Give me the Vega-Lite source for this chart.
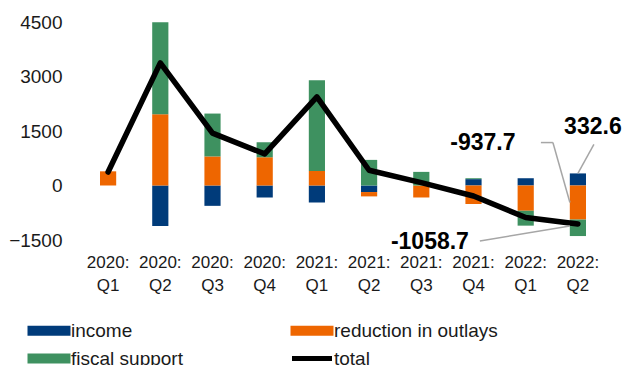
{
  "$schema": "https://vega.github.io/schema/vega-lite/v6.json",
  "autosize": {"type": "none"},
  "padding": {"left": 82, "top": 22, "right": 23, "bottom": 125},
  "width": 522,
  "height": 218,
  "background": "white",
  "config": {"view": {"stroke": null}, "font": "Liberation Sans"},
  "datasets": {
    "main": [
      {"q": "2020: Q1", "income": 0, "reduction in outlays": 390, "fiscal support": 0, "total": 370},
      {"q": "2020: Q2", "income": -1115, "reduction in outlays": 1960, "fiscal support": 2530, "total": 3375},
      {"q": "2020: Q3", "income": -560, "reduction in outlays": 800, "fiscal support": 1180, "total": 1440},
      {"q": "2020: Q4", "income": -330, "reduction in outlays": 780, "fiscal support": 410, "total": 870},
      {"q": "2021: Q1", "income": -465, "reduction in outlays": 400, "fiscal support": 2500, "total": 2440},
      {"q": "2021: Q2", "income": -180, "reduction in outlays": -120, "fiscal support": 705, "total": 420},
      {"q": "2021: Q3", "income": 0, "reduction in outlays": -330, "fiscal support": 375, "total": 80},
      {"q": "2021: Q4", "income": 175, "reduction in outlays": -510, "fiscal support": 25, "total": -290},
      {"q": "2022: Q1", "income": 200, "reduction in outlays": -695, "fiscal support": -410, "total": -880},
      {"q": "2022: Q2", "income": 332.6, "reduction in outlays": -937.7, "fiscal support": -453.6, "total": -1058.7}
    ],
    "notes": [
      {"q": "2022: Q2", "v": 332.6, "label": "332.6", "kind": "a"},
      {"q": "2022: Q2", "v": -937.7, "label": "-937.7", "kind": "b"},
      {"q": "2022: Q2", "v": -1058.7, "label": "-1058.7", "kind": "c"}
    ]
  },
  "encoding": {
    "x": {
      "field": "q", "type": "nominal", "sort": null,
      "scale": {"paddingInner": 0.69, "paddingOuter": 0.345},
      "axis": {"title": null, "domain": false, "ticks": false, "labelAngle": 0, "labelFontSize": 17, "labelColor": "#1a1a1a", "labelPadding": 14, "labelLineHeight": 23, "labelExpr": "split(datum.label, ' ')"}
    }
  },
  "layer": [
    {
      "data": {"name": "main"},
      "transform": [
        {"fold": ["income", "reduction in outlays", "fiscal support"], "as": ["series", "value"]},
        {"calculate": "indexof(['income','reduction in outlays','fiscal support'], datum.series)", "as": "ord"}
      ],
      "mark": {"type": "bar"},
      "encoding": {
        "y": {
          "field": "value", "type": "quantitative", "stack": "zero",
          "scale": {"domain": [-1500, 4500], "nice": false},
          "axis": {"title": null, "domain": false, "ticks": false, "grid": false, "values": [-1500, 0, 1500, 3000, 4500], "format": "d", "labelFontSize": 19, "labelColor": "#1a1a1a", "labelPadding": 20}
        },
        "order": {"field": "ord", "type": "quantitative"},
        "color": {
          "field": "series", "type": "nominal",
          "scale": {"domain": ["income", "reduction in outlays", "fiscal support", "total"], "range": ["#003B7A", "#EE6600", "#3E9160", "#000000"]},
          "legend": {
            "title": null, "orient": "none", "legendX": -59, "legendY": 299, "columns": 2, "direction": "horizontal",
            "columnPadding": 103, "rowPadding": 8, "labelFontSize": 19, "labelColor": "#1a1a1a", "labelOffset": 29, "labelLimit": 400,
            "symbolType": "M-1,-1H7.6V1H-1Z", "symbolSize": 100, "symbolStrokeWidth": 0, "symbolOpacity": 1,
            "encode": {"symbols": {"update": {"shape": {"signal": "datum.value === 'total' ? 'M-0.7,-0.5H7.3V0.5H-0.7Z' : 'M-1,-1H7.6V1H-1Z'"}}}}
          }
        }
      }
    },
    {
      "mark": {"type": "rule", "color": "#000000", "strokeWidth": 1.5},
      "encoding": {"y": {"datum": 0, "type": "quantitative"}, "x": {"value": 0}, "x2": {"value": 522}}
    },
    {
      "data": {"name": "main"},
      "mark": {"type": "line", "color": "#000000", "strokeWidth": 5.5, "strokeCap": "round", "strokeJoin": "round"},
      "encoding": {"y": {"field": "total", "type": "quantitative"}}
    },
    {
      "data": {"name": "notes"},
      "transform": [{"filter": "datum.kind === 'a'"}],
      "layer": [
        {"mark": {"type": "rule", "color": "#A6A6A6", "strokeWidth": 1.5, "x2Offset": 16, "y2Offset": -29},
         "encoding": {"y": {"field": "v", "type": "quantitative"}, "y2": {"field": "v"}, "x2": {"field": "q"}}},
        {"mark": {"type": "text", "fontSize": 23, "fontWeight": "bold", "color": "#000000", "dx": 15, "dy": -46},
         "encoding": {"y": {"field": "v", "type": "quantitative"}, "text": {"field": "label"}}}
      ]
    },
    {
      "data": {"name": "notes"},
      "transform": [{"filter": "datum.kind === 'b'"}],
      "layer": [
        {"mark": {"type": "rule", "color": "#A6A6A6", "strokeWidth": 1.5, "xOffset": -37, "x2Offset": -25, "yOffset": -77, "y2Offset": -77},
         "encoding": {"y": {"field": "v", "type": "quantitative"}, "y2": {"field": "v"}, "x2": {"field": "q"}}},
        {"mark": {"type": "rule", "color": "#A6A6A6", "strokeWidth": 1.5, "xOffset": -25, "x2Offset": -8, "yOffset": -77, "y2Offset": -17},
         "encoding": {"y": {"field": "v", "type": "quantitative"}, "y2": {"field": "v"}, "x2": {"field": "q"}}},
        {"mark": {"type": "text", "fontSize": 23, "fontWeight": "bold", "color": "#000000", "dx": -95, "dy": -77},
         "encoding": {"y": {"field": "v", "type": "quantitative"}, "text": {"field": "label"}}}
      ]
    },
    {
      "data": {"name": "notes"},
      "transform": [{"filter": "datum.kind === 'c'"}],
      "layer": [
        {"mark": {"type": "rule", "color": "#A6A6A6", "strokeWidth": 1.5, "xOffset": -98, "x2Offset": -8, "yOffset": 17, "y2Offset": 2},
         "encoding": {"y": {"field": "v", "type": "quantitative"}, "y2": {"field": "v"}, "x2": {"field": "q"}}},
        {"mark": {"type": "text", "fontSize": 23, "fontWeight": "bold", "color": "#000000", "dx": -148, "dy": 18},
         "encoding": {"y": {"field": "v", "type": "quantitative"}, "text": {"field": "label"}}}
      ]
    }
  ]
}
